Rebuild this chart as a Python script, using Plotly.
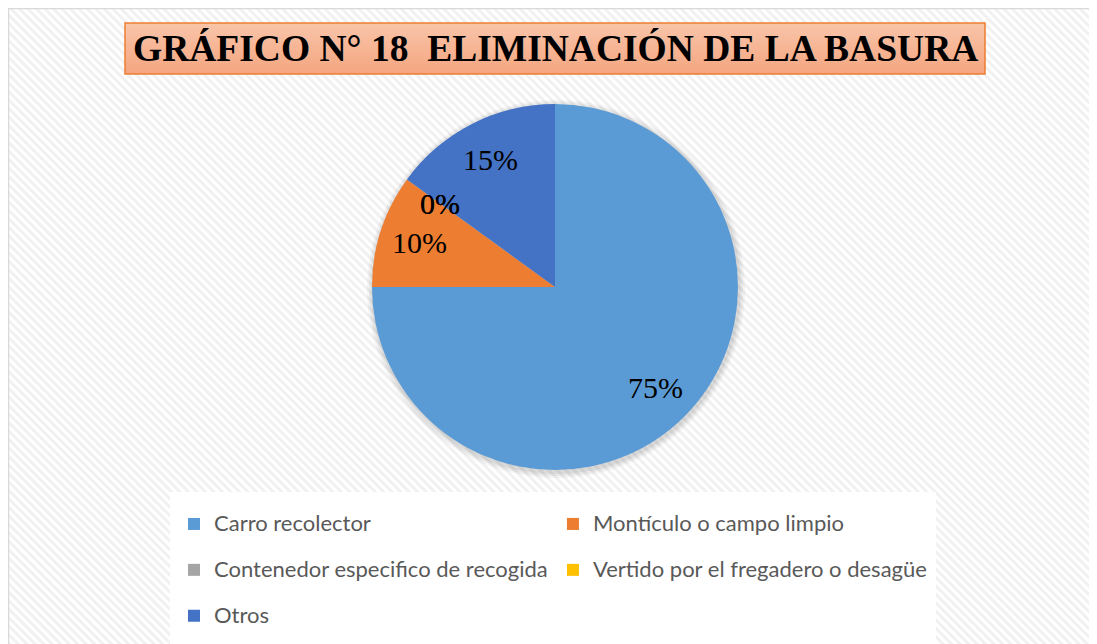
import base64
import math
import plotly.graph_objects as go

# datos del grafico
categorias = [
    "Carro recolector",
    "Montículo o campo limpio",
    "Contenedor especifico de recogida",
    "Vertido por el fregadero o desagüe",
    "Otros",
]
porcentajes = [75, 10, 0, 0, 15]
colores = ["#5b9bd5", "#ed7d31", "#a5a5a5", "#ffc000", "#4472c4"]
titulo = "GRÁFICO N° 18  ELIMINACIÓN DE LA BASURA"

W, H = 1097, 644
OFF = 8  # margen del body de la pagina

# fondo rayado + marco + recuadro del titulo (imagen svg incrustada)
svg = f"""<svg xmlns="http://www.w3.org/2000/svg" width="{W}" height="{H}">
<defs>
<pattern id="p" width="6" height="6" patternUnits="userSpaceOnUse" patternTransform="rotate(-45)">
<rect width="6" height="6" fill="#ffffff"/><rect width="3" height="6" fill="#f1f1f1"/></pattern>
<linearGradient id="g" x1="0" y1="0" x2="0" y2="1">
<stop offset="0" stop-color="#f9c5aa"/><stop offset="1" stop-color="#f4a57f"/></linearGradient>
</defs>
<rect width="{W}" height="{H}" fill="url(#p)"/>
<rect x="0" y="0" width="{W + 10}" height="{H + 10}" fill="none" stroke="#d9d9d9" stroke-width="2.5"/>
<rect x="{125 - OFF}" y="{23 - OFF}" width="860" height="51" fill="url(#g)" stroke="#ed7d31" stroke-width="1.5"/>
</svg>"""
fondo = "data:image/svg+xml;base64," + base64.b64encode(svg.encode()).decode()

# posicion del pastel (px de la figura)
cx, cy, r = 555 - OFF, 287 - OFF, 183
dom_x = [(cx - r) / W, (cx + r) / W]
dom_y = [1 - (cy + r) / H, 1 - (cy - r) / H]

fig = go.Figure()

# sombra suave detras del pastel
for i, op in enumerate([0.04, 0.05, 0.06]):
    rr = r + 6 - 2 * i
    fig.add_trace(go.Pie(
        values=[1], labels=["sombra"], showlegend=False, hoverinfo="skip",
        textinfo="none", sort=False,
        marker=dict(colors=[f"rgba(0,0,0,{op})"], line=dict(width=0)),
        domain=dict(x=[(cx + 1 - rr) / W, (cx + 1 + rr) / W],
                    y=[1 - (cy + 2 + rr) / H, 1 - (cy + 2 - rr) / H]),
    ))

# etiquetas de leyenda (texto de 22px en filas altas)
etiquetas = [f"<span style='font-size:22px;baseline-shift:6px'>{c}</span>" for c in categorias]

fig.add_trace(go.Pie(
    labels=etiquetas,
    values=porcentajes,
    sort=False,
    direction="clockwise",
    rotation=0,
    marker=dict(colors=colores, line=dict(width=0)),
    textinfo="none",
    hovertemplate="%{label}: %{percent:.0%}<extra></extra>",
    domain=dict(x=dom_x, y=dom_y),
    showlegend=True,
))

# etiquetas de porcentaje, sobre la bisectriz de cada porcion
total = sum(porcentajes)
acum = 0
for v in porcentajes:
    ang = math.radians((acum + v / 2) / total * 360)
    fig.add_annotation(
        x=(cx + 0.78 * r * math.sin(ang)) / W,
        y=1 - (cy - 0.78 * r * math.cos(ang)) / H,
        xref="paper", yref="paper", showarrow=False,
        xanchor="center", yanchor="middle",
        text=f"{v}%", font=dict(family="Liberation Serif", size=30, color="black"),
    )
    acum += v

# titulo
fig.add_annotation(
    x=(555 - OFF) / W, y=1 - (49 - OFF) / H, xref="paper", yref="paper",
    showarrow=False, xanchor="center", yanchor="middle",
    text=f"<b>{titulo}</b>",
    font=dict(family="Liberation Serif", size=37.5, color="black"),
)

fig.add_layout_image(
    source=fondo, xref="paper", yref="paper", x=0, y=1,
    sizex=1, sizey=1, sizing="stretch", layer="below",
    xanchor="left", yanchor="top",
)

fig.update_layout(
    width=W, height=H,
    margin=dict(l=0, r=0, t=0, b=0),
    paper_bgcolor="white",
    legend=dict(
        orientation="h", x=(170 - OFF) / W, y=1 - (492 - OFF) / H,
        xanchor="left", yanchor="top",
        bgcolor="white", bordercolor="white", borderwidth=4,
        font=dict(family="Lato", size=33, color="#595959"),
        itemwidth=30,
    ),
)

fig.write_html("out.html")
